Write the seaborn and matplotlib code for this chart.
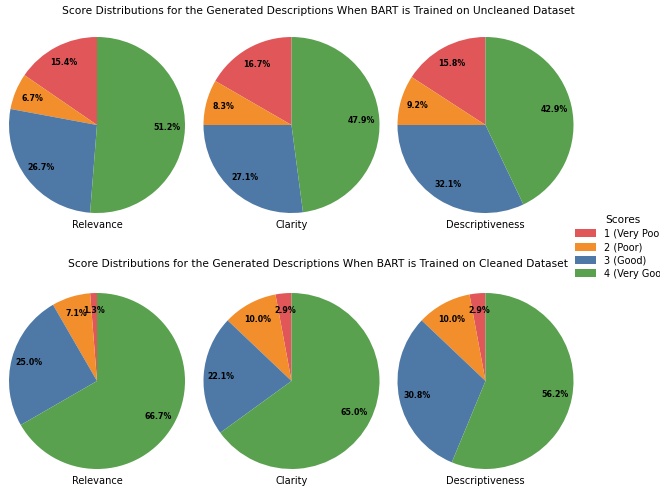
import matplotlib
matplotlib.use("Agg")
import matplotlib.pyplot as plt
import numpy as np
import seaborn as sns

sns.set_theme(style="white")
plt.rcParams['font.family'] = ['DejaVu Sans']
plt.rcParams['text.color'] = 'black'
plt.rcParams['axes.labelcolor'] = 'black'

# score counts per criterion (out of 240 ratings)
score_labels = ['1 (Very Poor)', '2 (Poor)', '3 (Good)', '4 (Very Good)']
criteria = ['Relevance', 'Clarity', 'Descriptiveness']

uncleaned_relevance = [37, 16, 64, 123]
uncleaned_clarity = [40, 20, 65, 115]
uncleaned_descriptiveness = [38, 22, 77, 103]

cleaned_relevance = [3, 17, 60, 160]
cleaned_clarity = [7, 24, 53, 156]
cleaned_descriptiveness = [7, 24, 74, 135]

rows = [
    ('Score Distributions for the Generated Descriptions When BART is Trained on Uncleaned Dataset',
     [uncleaned_relevance, uncleaned_clarity, uncleaned_descriptiveness]),
    ('Score Distributions for the Generated Descriptions When BART is Trained on Cleaned Dataset',
     [cleaned_relevance, cleaned_clarity, cleaned_descriptiveness]),
]

colors = ['#e15759', '#f28e2b', '#4e79a7', '#59a14f']


def pct_fmt(p):
    # old matplotlib computed fractions in float32, keep its rounding
    return '%1.1f%%' % (float(np.float32(p / 100.0)) * 100.0)


W, H = 660, 491
fig = plt.figure(figsize=(W / 100, H / 100), dpi=100)

centers_x = [97, 291.5, 485.5]
centers_y = [125, 381]
title_y = [11, 264]
r = 88
lim = 1.0

wedges = None
for i, (title, data) in enumerate(rows):
    fig.text(318 / W, 1 - title_y[i] / H, title, ha='center', va='center', fontsize=7.7)
    for j, vals in enumerate(data):
        cx, cy = centers_x[j], centers_y[i]
        ax = fig.add_axes([(cx - r * lim) / W, 1 - (cy + r * lim) / H,
                           2 * r * lim / W, 2 * r * lim / H])
        wedges, _, autotexts = ax.pie(vals, colors=colors, startangle=90,
                                      autopct=pct_fmt, pctdistance=0.8,
                                      wedgeprops={'linewidth': 0},
                                      textprops={'fontsize': 5.7, 'fontweight': 'bold'})
        ax.set_xlim(-lim, lim)
        ax.set_ylim(-lim, lim)
        ax.set_aspect('equal')
        ax.set_xlabel(criteria[j], fontsize=7.1, labelpad=5)

fig.legend(wedges, score_labels, title='Scores', loc='center left',
           bbox_to_anchor=(571 / W, 1 - 247 / H), frameon=False,
           fontsize=7, title_fontsize=7.6, handlelength=2.2, handleheight=0.9,
           labelspacing=0.35, borderaxespad=0)

fig.savefig('out.png', dpi=100)
